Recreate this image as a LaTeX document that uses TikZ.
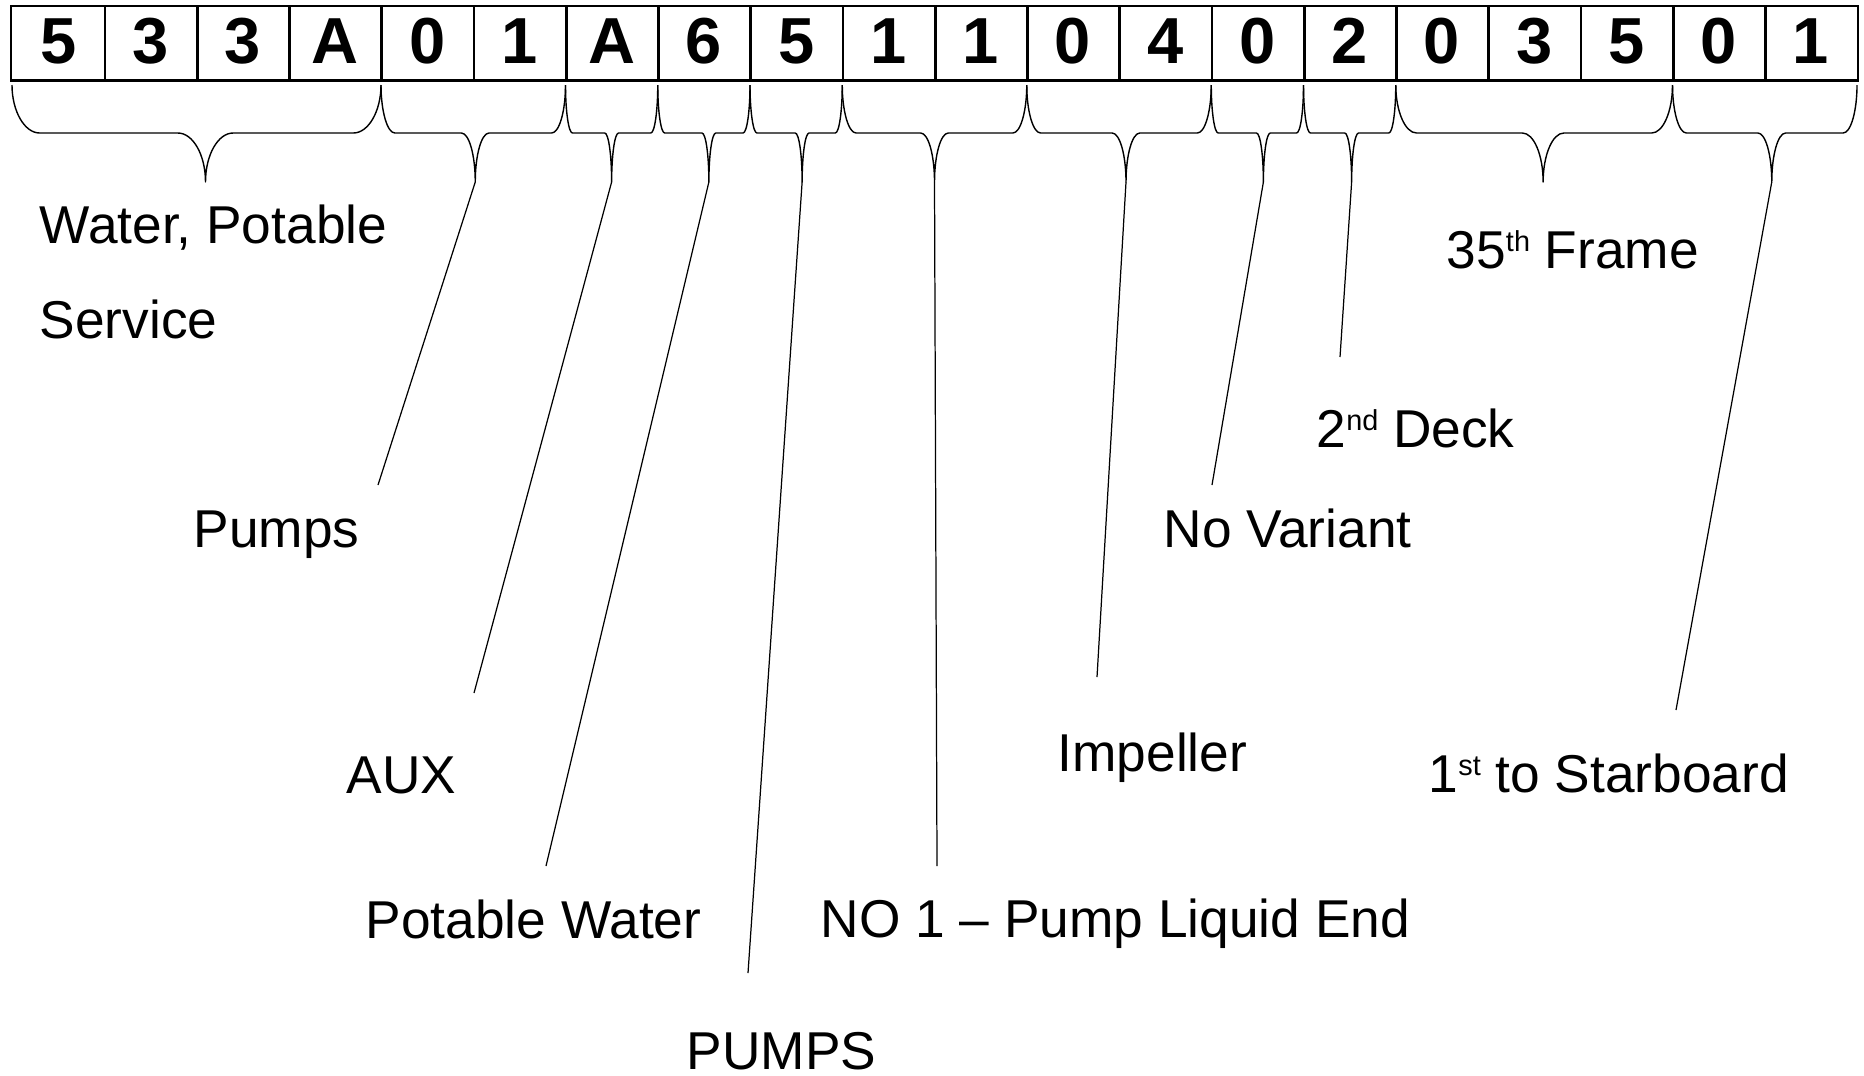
\documentclass[tikz,border=0pt]{standalone}
\usepackage{fontspec}
\setmainfont{Liberation Sans}
\usetikzlibrary{positioning,calc}
\newcommand{\supr}[1]{\raisebox{0.31em}{\fontsize{8.2}{9}\selectfont #1}}
\tikzset{
  cell/.style={minimum width=0.9225cm, minimum height=0.73cm, inner sep=0pt,
               font=\fontsize{18.5}{20}\selectfont\bfseries, text height=0.47cm, text depth=0.08cm},
  lbl/.style={anchor=base west, inner sep=0pt, font=\fontsize{15.15}{18}\selectfont},
  frm/.style={line width=0.5pt},
  sep/.style={line width=0.75pt},
  botline/.style={line width=0.95pt},
  brace/.style={line width=0.4pt, line join=round},
  lead/.style={line width=0.35pt},
}
\begin{document}
\begin{tikzpicture}[x=0.01cm, y=-0.01cm]
\useasboundingbox (0,0) rectangle (1864,1075);
% ---- code cells ----
\foreach \d [count=\i] in {5,3,3,A,0,1,A,6,5,1,1,0,4,0,2,0,3,5,0,1}
  \node[cell] (c\i) at ({12+92.25*(\i-0.5)},43.5) {\d};
\draw[frm] (c1.south west) rectangle (c20.north east);
\foreach \i in {1,...,19}
  \draw[sep] (c\i.north east) -- (c\i.south east);
\draw[botline] (c1.south west) -- (c20.south east);
% ---- braces (first cell / last cell / tip shift / tip name) ----
\foreach \a/\b/\s/\n in {0/4/9/tsys, 4/6/2/tpmp, 6/7/0/taux, 7/8/5/tpw, 8/9/6/tpmps,
                         9/11/0/tno, 11/13/7/timp, 13/14/6/tnv, 14/15/2/tdk,
                         15/18/9/tfr, 18/20/7/tsb}{
  \pgfmathsetmacro\xl{12+92.25*\a}
  \pgfmathsetmacro\xr{12+92.25*\b}
  \pgfmathsetmacro\xt{(\xl+\xr)/2+\s}
  \pgfmathsetmacro\rr{0.075*(\xr-\xl)}
  \coordinate (\n) at (\xt,182);
  \draw[brace] (\xl,85) .. controls (\xl,111) and ({\xl+0.45*\rr},133) .. ({\xl+\rr},133)
    -- ({\xt-\rr},133) .. controls ({\xt-0.45*\rr},133) and (\xt,155) .. (\xt,182)
    .. controls (\xt,155) and ({\xt+0.45*\rr},133) .. ({\xt+\rr},133)
    -- ({\xr-\rr},133) .. controls ({\xr-0.45*\rr},133) and (\xr,111) .. (\xr,85);
}
% ---- labels ----
\node[lbl] (sys)  at (39,243)   {Water, Potable};
\node[lbl] (sysb) at (39,338)   {Service};
\node[lbl] (pmp)  at (193,547)  {Pumps};
\node[lbl] (aux)  at (346,793)  {AUX};
\node[lbl] (pw)   at (365,938)  {Potable Water};
\node[lbl] (pmps) at (686,1069) {PUMPS};
\node[lbl] (no)   at (820,937)  {NO 1 – Pump Liquid End};
\node[lbl] (imp)  at (1057,771) {Impeller};
\node[lbl] (nv)   at (1163,547) {No Variant};
\node[lbl] (dk)   at (1316,447) {2\supr{nd} Deck};
\node[lbl] (fr)   at (1446,268) {35\supr{th} Frame};
\node[lbl] (sb)   at (1428,792) {1\supr{st} to Starboard};
% ---- leader ends ----
\coordinate (epmp)  at (378,485);
\coordinate (eaux)  at (474,693);
\coordinate (epw)   at (546,866);
\coordinate (epmps) at (748,973);
\coordinate (eno)   at (937,866);
\coordinate (eimp)  at (1097,677);
\coordinate (env)   at (1212,485);
\coordinate (edk)   at (1340,357);
\coordinate (esb)   at (1676,710);
\draw[lead] (tpmp) -- (epmp);
\draw[lead] (taux) -- (eaux);
\draw[lead] (tpw) -- (epw);
\draw[lead] (tpmps) -- (epmps);
\draw[lead] (tno) -- (eno);
\draw[lead] (timp) -- (eimp);
\draw[lead] (tnv) -- (env);
\draw[lead] (tdk) -- (edk);
\draw[lead] (tsb) -- (esb);
\end{tikzpicture}
\end{document}
